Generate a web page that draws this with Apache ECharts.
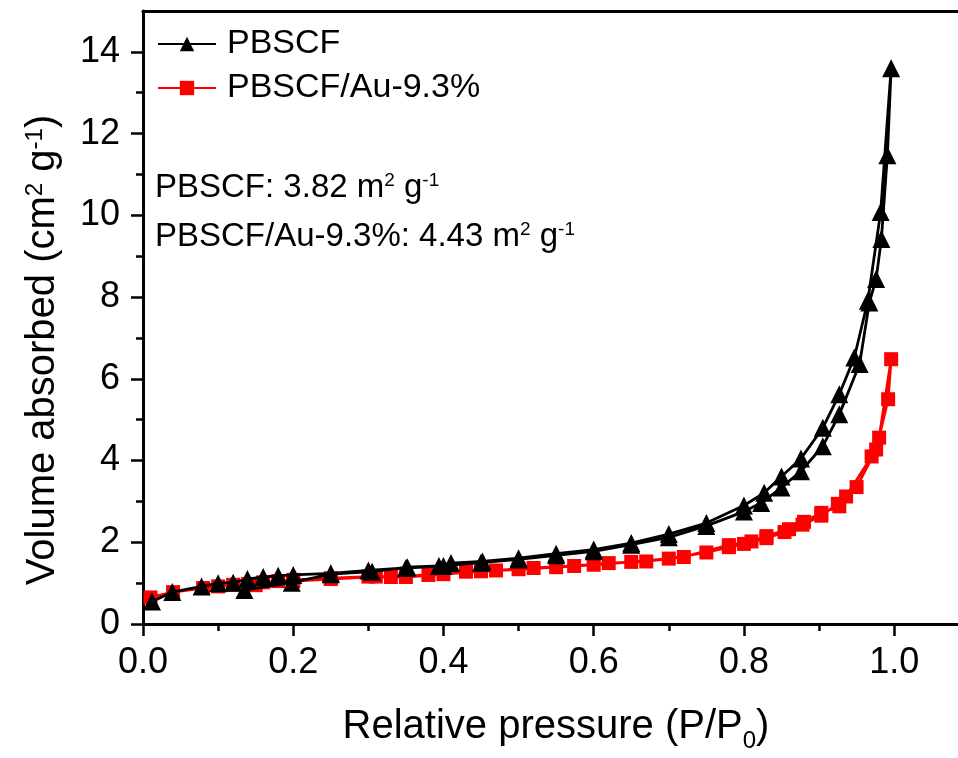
<!DOCTYPE html>
<html>
<head>
<meta charset="utf-8">
<script src="https://cdn.jsdelivr.net/npm/echarts@6/dist/echarts.min.js"></script>
<style>
  html, body { margin: 0; padding: 0; background: #ffffff; }
  #chart { width: 958px; height: 758px; }
</style>
</head>
<body>
<div id="chart"></div>
<script>
// N2 adsorption-desorption isotherms: relative pressure (P/P0) vs adsorbed volume.
// PBSCF – adsorption branch then desorption branch
const pbscfAdsP = [0.012,0.039,0.078,0.100,0.120,0.139,0.160,0.180,0.200,0.250,0.300,0.350,0.400,0.450,0.500,0.550,0.600,0.650,0.700,0.750,0.800,0.823,0.850,0.876,0.905,0.927,0.954,0.967,0.976,0.983,0.991,0.996];
const pbscfAdsV = [0.55,0.78,0.92,1.00,1.01,1.10,1.15,1.18,1.20,1.24,1.31,1.37,1.42,1.50,1.58,1.68,1.78,1.94,2.12,2.40,2.75,2.96,3.34,3.74,4.35,5.13,6.36,7.87,8.44,9.42,11.47,13.60];
const pbscfDesP = [0.982,0.965,0.947,0.927,0.905,0.876,0.850,0.827,0.800,0.750,0.700,0.650,0.600,0.550,0.500,0.452,0.410,0.394,0.352,0.305,0.250,0.198,0.135];
const pbscfDesV = [10.08,7.91,6.52,5.62,4.80,4.05,3.61,3.21,2.90,2.47,2.20,1.98,1.82,1.72,1.61,1.53,1.49,1.42,1.39,1.28,1.22,1.01,0.83];

// PBSCF/Au-9.3% – adsorption branch then desorption branch
const auAdsP = [0.010,0.040,0.080,0.100,0.120,0.140,0.160,0.180,0.200,0.250,0.300,0.350,0.400,0.450,0.500,0.550,0.600,0.650,0.700,0.750,0.780,0.800,0.830,0.854,0.878,0.903,0.925,0.950,0.976,0.992,0.996];
const auAdsV = [0.65,0.78,0.88,0.92,0.96,0.98,1.02,1.05,1.08,1.12,1.16,1.15,1.22,1.29,1.34,1.39,1.45,1.52,1.60,1.75,1.88,1.96,2.10,2.25,2.43,2.65,2.94,3.35,4.27,5.50,6.48];
const auDesP = [0.980,0.970,0.936,0.927,0.903,0.880,0.860,0.830,0.810,0.780,0.720,0.670,0.620,0.574,0.520,0.470,0.430,0.380,0.330,0.310,0.250,0.200,0.150];
const auDesV = [4.56,4.10,3.12,2.88,2.72,2.50,2.32,2.15,2.02,1.93,1.64,1.53,1.49,1.42,1.37,1.31,1.28,1.20,1.15,1.16,1.10,1.05,0.95];

const seriesNames = ['PBSCF', 'PBSCF/Au-9.3%'];
const xTicks = [0.0, 0.2, 0.4, 0.6, 0.8, 1.0];
const xMinorTicks = [0.1, 0.3, 0.5, 0.7, 0.9];
const yTicks = [0, 2, 4, 6, 8, 10, 12, 14];
const yMinorTicks = [1, 3, 5, 7, 9, 11, 13];

function pairs(px, vy) { return px.map((p, i) => [p, vy[i]]); }
const pbscfData = pairs(pbscfAdsP, pbscfAdsV).concat(pairs(pbscfDesP, pbscfDesV));
const auData = pairs(auAdsP, auAdsV).concat(pairs(auDesP, auDesV));

const FONT = '"Liberation Sans", Arial, sans-serif';
const X_MAX = 1.085;
const chart = echarts.init(document.getElementById('chart'), null, { renderer: 'canvas' });

const frameLine = { show: true, lineStyle: { color: '#000', width: 3 } };
const tickStyle = { width: 2.5, color: '#000' };

chart.setOption({
  backgroundColor: '#ffffff',
  animation: false,
  grid: { left: 143, top: 11, right: 0, bottom: 134, show: false },
  legend: {
    data: seriesNames,
    orient: 'vertical',
    left: 157,
    top: 27,
    padding: 0,
    itemWidth: 58,
    itemHeight: 18,
    itemGap: 10,
    textStyle: { fontFamily: FONT, fontSize: 34, color: '#000', lineHeight: 34, padding: [0, 0, 0, 6] }
  },
  xAxis: [{
    type: 'value', min: 0, max: X_MAX, interval: 0.2,
    axisLine: frameLine,
    axisTick: { show: true, inside: false, length: 12, lineStyle: tickStyle, customValues: xTicks },
    axisLabel: { customValues: xTicks, margin: 21, fontFamily: FONT, fontSize: 36, color: '#000', formatter: v => v.toFixed(1) },
    splitLine: { show: false }
  }, {
    type: 'value', min: 0, max: X_MAX, interval: 0.1, position: 'bottom',
    axisLine: { show: false },
    axisTick: { show: true, inside: false, length: 7, lineStyle: tickStyle, customValues: xMinorTicks },
    axisLabel: { show: false },
    splitLine: { show: false }
  }, {
    type: 'value', min: 0, max: X_MAX, position: 'top',
    axisLine: frameLine,
    axisTick: { show: false },
    axisLabel: { show: false },
    splitLine: { show: false }
  }],
  yAxis: [{
    type: 'value', min: 0, max: 15, interval: 2,
    axisLine: frameLine,
    axisTick: { show: true, inside: false, length: 12, lineStyle: tickStyle, customValues: yTicks },
    axisLabel: { customValues: yTicks, margin: 23, fontFamily: FONT, fontSize: 36, color: '#000' },
    splitLine: { show: false }
  }, {
    type: 'value', min: 0, max: 15, interval: 1, position: 'left',
    axisLine: { show: false },
    axisTick: { show: true, inside: false, length: 7, lineStyle: tickStyle, customValues: yMinorTicks },
    axisLabel: { show: false },
    splitLine: { show: false }
  }],
  series: [{
    name: seriesNames[1],
    type: 'line',
    data: auData,
    xAxisIndex: 0, yAxisIndex: 0,
    symbol: 'rect', symbolSize: 14,
    lineStyle: { color: '#ff0000', width: 2.8 },
    itemStyle: { color: '#ff0000' },
    z: 2
  }, {
    name: seriesNames[0],
    type: 'line',
    data: pbscfData,
    xAxisIndex: 0, yAxisIndex: 0,
    symbol: 'triangle', symbolSize: 18,
    lineStyle: { color: '#000000', width: 2.8 },
    itemStyle: { color: '#000000' },
    z: 3
  }],
  graphic: [{
    type: 'text', x: 155, y: 188,
    style: {
      text: 'PBSCF: 3.82 m{sup|2} g{sup|-1}',
      font: '33px ' + FONT, fill: '#000', align: 'left', verticalAlign: 'middle',
      rich: { sup: { fontSize: 19, verticalAlign: 'top', fontFamily: FONT, fill: '#000' } }
    }
  }, {
    type: 'text', x: 155, y: 237,
    style: {
      text: 'PBSCF/Au-9.3%: 4.43 m{sup|2} g{sup|-1}',
      font: '33px ' + FONT, fill: '#000', align: 'left', verticalAlign: 'middle',
      rich: { sup: { fontSize: 19, verticalAlign: 'top', fontFamily: FONT, fill: '#000' } }
    }
  }, {
    type: 'text', x: 556, y: 727,
    style: {
      text: 'Relative pressure (P/P{sub|0})',
      font: '40px ' + FONT, fill: '#000', align: 'center', verticalAlign: 'middle',
      rich: { sub: { fontSize: 24, verticalAlign: 'bottom', lineHeight: 52, fontFamily: FONT, fill: '#000' } }
    }
  }, {
    type: 'text', x: 43, y: 350, rotation: Math.PI / 2,
    style: {
      text: 'Volume absorbed (cm{sup|2} g{sup|-1})',
      font: '40px ' + FONT, fill: '#000', align: 'center', verticalAlign: 'middle',
      rich: { sup: { fontSize: 24, verticalAlign: 'top', fontFamily: FONT, fill: '#000' } }
    }
  }]
});
</script>
</body>
</html>
